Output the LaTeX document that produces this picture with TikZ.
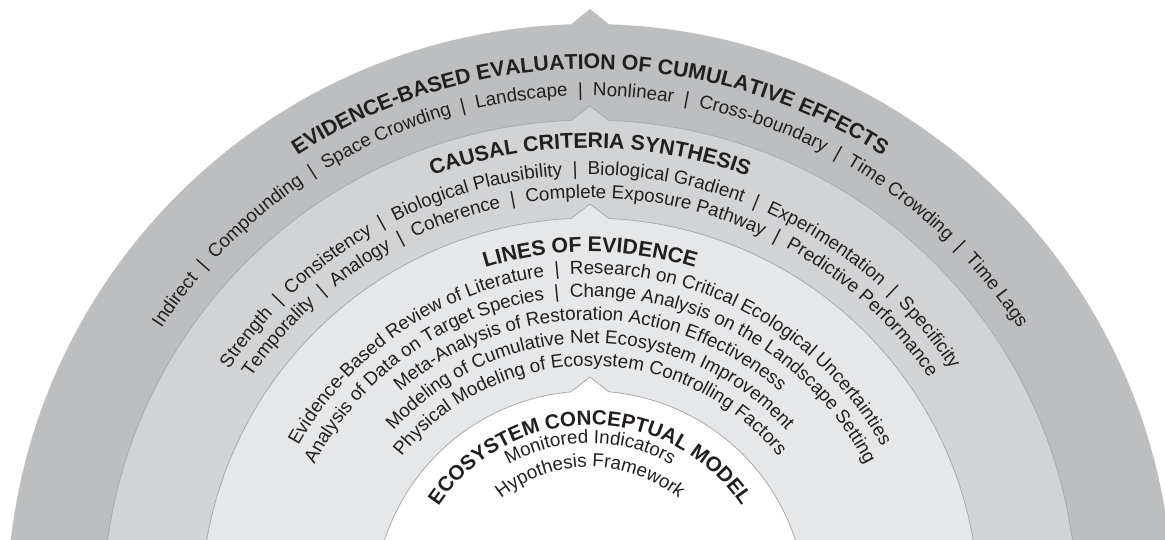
\documentclass[tikz,border=0pt]{standalone}
\usepackage{fontspec}
\setmainfont{Liberation Sans}
\usetikzlibrary{decorations.text,calc}
\definecolor{ringA}{HTML}{BCBEC0}
\definecolor{ringB}{HTML}{D1D3D4}
\definecolor{ringC}{HTML}{E6E7E8}
\definecolor{rimline}{HTML}{A7A9AC}
\definecolor{ink}{HTML}{231F20}
\protected\def\SEP{\kern0.55em|\kern0.55em}
\protected\def\fTitle{\fontsize{21.3}{24}\selectfont\bfseries}
\protected\def\fCore{\fontsize{20.6}{24}\selectfont\bfseries}
\protected\def\fItem{\fontsize{18.8}{22}\selectfont}
\tikzset{
  rim/.style={draw=rimline, line width=0.8pt},
  arctext/.style 2 args={decorate, decoration={text along path,
      text format delimiters={[}{]}, text={[#1]#2},
      text align=center, text color=ink}}
}
\newcommand\chevdisk[4]{% radius, fill, peak height, options
  \pgfmathsetmacro\chevA{90+asin(19/#1)}%
  \pgfmathsetmacro\chevB{450-asin(19/#1)}%
  \pgfmathsetmacro\chevP{#1+#3}%
  \path[fill=#2,#4] ($(C)+(\chevA:#1)$)
    arc[start angle=\chevA, end angle=\chevB, radius=#1]
    -- ($(C)+(0,\chevP)$) -- cycle;}
\newcommand\arcline[3]{% radius, font, text
  \path[arctext={#2}{#3}] (180:#1) arc[start angle=180, end angle=0, radius=#1];}
\begin{document}
\begin{tikzpicture}[x=1pt,y=1pt]
\useasboundingbox (0,0) rectangle (1165,539);
\clip (0,0) rectangle (1165,539);
\fill[white] (0,0) rectangle (1165,539);
\coordinate (C) at (590,-68);
% rings
\chevdisk{583}{ringA}{15}{}
\chevdisk{487}{ringB}{14}{rim}
\chevdisk{389}{ringC}{14}{rim}
\chevdisk{216}{white}{14}{rim}
% texts
\begin{scope}[shift={(C)}]
\arcline{538}{\fTitle}{EVIDENCE-BASED EVALUATION OF CUMULATIVE EFFECTS}
\arcline{511}{\fItem}{Indirect{\SEP}Compounding{\SEP}Space Crowding{\SEP}Landscape{\SEP}Nonlinear{\SEP}Cross-boundary{\SEP}Time Crowding{\SEP}Time Lags}
\arcline{459}{\fTitle}{CAUSAL CRITERIA SYNTHESIS}
\arcline{432}{\fItem}{Strength{\SEP}Consistency{\SEP}Biological Plausibility{\SEP}Biological Gradient{\SEP}Experimentation{\SEP}Specificity}
\arcline{409}{\fItem}{Temporality{\SEP}Analogy{\SEP}Coherence{\SEP}Complete Exposure Pathway{\SEP}Predictive Performance}
\arcline{355}{\fTitle}{LINES OF EVIDENCE}
\arcline{333}{\fItem}{Evidence-Based Review of Literature{\SEP}Research on Critical Ecological Uncertainties}
\arcline{310}{\fItem}{Analysis of Data on Target Species{\SEP}Change Analysis on the Landscape Setting}
\arcline{287}{\fItem}{Meta-Analysis of Restoration Action Effectiveness}
\arcline{264}{\fItem}{Modeling of Cumulative Net Ecosystem Improvement}
\arcline{241}{\fItem}{Physical Modeling of Ecosystem Controlling Factors}
\arcline{182}{\fCore}{ECOSYSTEM CONCEPTUAL MODEL}
\arcline{164}{\fItem}{Monitored Indicators}
\arcline{140}{\fItem}{Hypothesis Framework}
\end{scope}
\end{tikzpicture}
\end{document}
